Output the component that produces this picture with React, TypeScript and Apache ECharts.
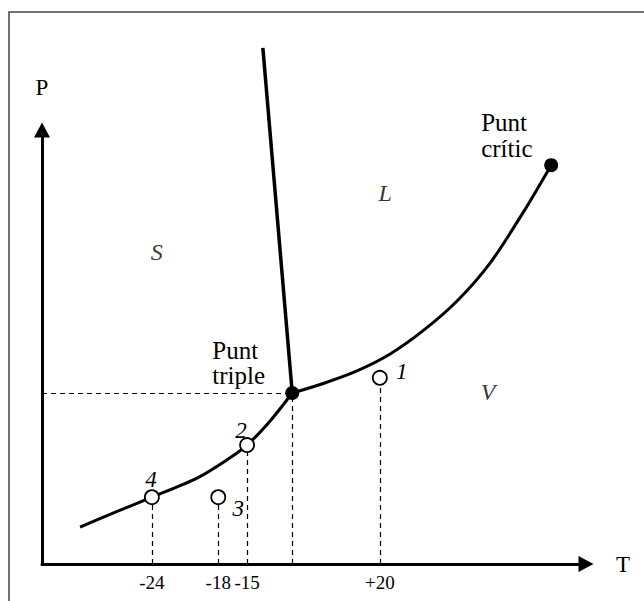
import React, { useEffect, useRef } from "react";
import * as echarts from "echarts";

// Schematic coordinates (arbitrary units 0..100 on both axes)
const sublimationCurve: [number, number][] = [
  [7.0, 8.5], [13.6, 12.0], [20.2, 15.4], [28.5, 19.8], [34.0, 24.0],
  [37.7, 27.4], [41.9, 32.9], [46.0, 39.4],
];
const vaporizationCurve: [number, number][] = [
  [46.0, 39.4], [51.7, 41.6], [57.9, 44.5], [64.0, 48.4], [70.0, 53.7],
  [76.3, 60.6], [82.4, 69.4], [88.4, 80.9], [93.6, 91.9],
];
const fusionCurve: [number, number][] = [[40.6, 118.9], [46.0, 39.4]];

const tempTicks = [20.2, 32.4, 37.7, 62.1];
const tempTickLabels = ["-24", "-18", "-15", "+20"];

const stateNames = ["1", "2", "3", "4"];
const statePoints: [number, number][] = [[62.1, 42.9], [37.7, 27.4], [32.4, 15.4], [20.2, 15.4]];
const stateLabelOffsets: [number, number][] = [[22, -6], [-6, -15], [20, 11], [-1, -18]];

const triplePoint: [number, number] = [46.0, 39.4];
const criticalPoint: [number, number] = [93.6, 91.9];

const regionNames = ["S", "L", "V"];
const regionPos: [number, number][] = [[21.1, 71.9], [63.1, 85.5], [82.0, 39.6]];

const FONT = "Times New Roman, Liberation Serif, serif";

export default function App() {
  const ref = useRef<HTMLDivElement>(null);
  useEffect(() => {
    if (!ref.current) return;
    const chart = echarts.init(ref.current, null, { renderer: "svg" });
    const dashed = { type: [5, 4] as any, width: 1.2, color: "#000" };
    const guides: any[] = [
      ...statePoints.map((p) => [
        { coord: [p[0], 0] },
        { coord: [p[0], p[1]] },
      ]),
      [{ coord: [triplePoint[0], 0] }, { coord: [triplePoint[0], triplePoint[1]] }],
      [{ coord: [0, triplePoint[1]] }, { coord: [triplePoint[0], triplePoint[1]] }],
    ];
    chart.setOption({
      animation: false,
      textStyle: { fontFamily: FONT },
      grid: { left: 42, top: 130, right: 58, bottom: 37 },
      graphic: [
        {
          type: "rect",
          shape: { x: 9, y: 12, width: 700, height: 700 },
          style: { fill: "none", stroke: "#444", lineWidth: 1.5 },
          z: -10,
        },
      ],
      xAxis: {
        type: "value",
        min: 0,
        max: 100,
        name: "T",
        nameLocation: "end",
        nameGap: 30,
        nameTextStyle: { fontFamily: FONT, fontSize: 23, color: "#000", padding: [0, 0, 26, 0] },
        axisLine: {
          show: true,
          lineStyle: { color: "#000", width: 3 },
          symbol: ["none", "triangle"],
          symbolSize: [16, 15],
        },
        axisTick: { show: false },
        splitLine: { show: false },
        axisLabel: {
          customValues: tempTicks,
          margin: 9,
          fontFamily: FONT,
          fontSize: 19,
          color: "#000",
          formatter: (v: number) => {
            let best = 0;
            tempTicks.forEach((t, i) => {
              if (Math.abs(t - v) < Math.abs(tempTicks[best] - v)) best = i;
            });
            return tempTickLabels[best];
          },
        },
      },
      yAxis: {
        type: "value",
        min: 0,
        max: 100,
        name: "P",
        nameLocation: "end",
        nameGap: 31,
        nameTextStyle: { fontFamily: FONT, fontSize: 23, color: "#000", align: "center" },
        axisLine: {
          show: true,
          lineStyle: { color: "#000", width: 3 },
          symbol: ["none", "triangle"],
          symbolSize: [16, 15],
        },
        axisTick: { show: false },
        splitLine: { show: false },
        axisLabel: { show: false },
      },
      series: [
        {
          type: "line",
          data: [],
          z: 1,
          markLine: {
            silent: true,
            symbol: "none",
            label: { show: false },
            lineStyle: dashed,
            data: guides,
          },
        },
        {
          type: "line",
          data: sublimationCurve,
          smooth: 0.3,
          symbol: "none",
          lineStyle: { color: "#000", width: 3 },
          z: 3,
        },
        {
          type: "line",
          data: vaporizationCurve,
          smooth: 0.3,
          symbol: "none",
          lineStyle: { color: "#000", width: 3 },
          z: 3,
        },
        {
          type: "line",
          data: fusionCurve,
          clip: false,
          symbol: "none",
          lineStyle: { color: "#000", width: 3.5 },
          z: 3,
        },
        {
          type: "scatter",
          symbol: "circle",
          symbolSize: 14,
          z: 5,
          itemStyle: { color: "#fff", borderColor: "#000", borderWidth: 1.8, opacity: 1 },
          data: statePoints.map((p, i) => ({
            value: p,
            name: stateNames[i],
            label: {
              show: true,
              position: "inside",
              offset: stateLabelOffsets[i],
              formatter: stateNames[i],
              fontFamily: FONT,
              fontStyle: "italic",
              fontSize: 23,
              color: "#000",
            },
          })),
        },
        {
          type: "scatter",
          symbol: "circle",
          symbolSize: 14,
          z: 6,
          itemStyle: { color: "#000", opacity: 1 },
          data: [
            {
              value: triplePoint,
              label: {
                show: true,
                position: "inside",
                align: "left",
                offset: [-80, -30],
                formatter: "Punt\ntriple",
                fontFamily: FONT,
                fontSize: 25,
                lineHeight: 25,
                color: "#000",
              },
            },
            {
              value: criticalPoint,
              label: {
                show: true,
                position: "inside",
                align: "left",
                offset: [-70, -30],
                formatter: "Punt\ncrític",
                fontFamily: FONT,
                fontSize: 25,
                lineHeight: 26,
                color: "#000",
              },
            },
          ],
        },
        {
          type: "scatter",
          symbolSize: 0,
          z: 6,
          data: regionPos.map((p, i) => ({
            value: p,
            label: {
              show: true,
              position: "inside",
              formatter: regionNames[i],
              fontFamily: FONT,
              fontStyle: "italic",
              fontSize: 24,
              color: "#000",
            },
          })),
        },
      ],
    });
    return () => chart.dispose();
  }, []);
  return (
    <div
      ref={ref}
      style={{ position: "fixed", left: 0, top: 0, width: 644, height: 601, background: "#fff" }}
    />
  );
}
